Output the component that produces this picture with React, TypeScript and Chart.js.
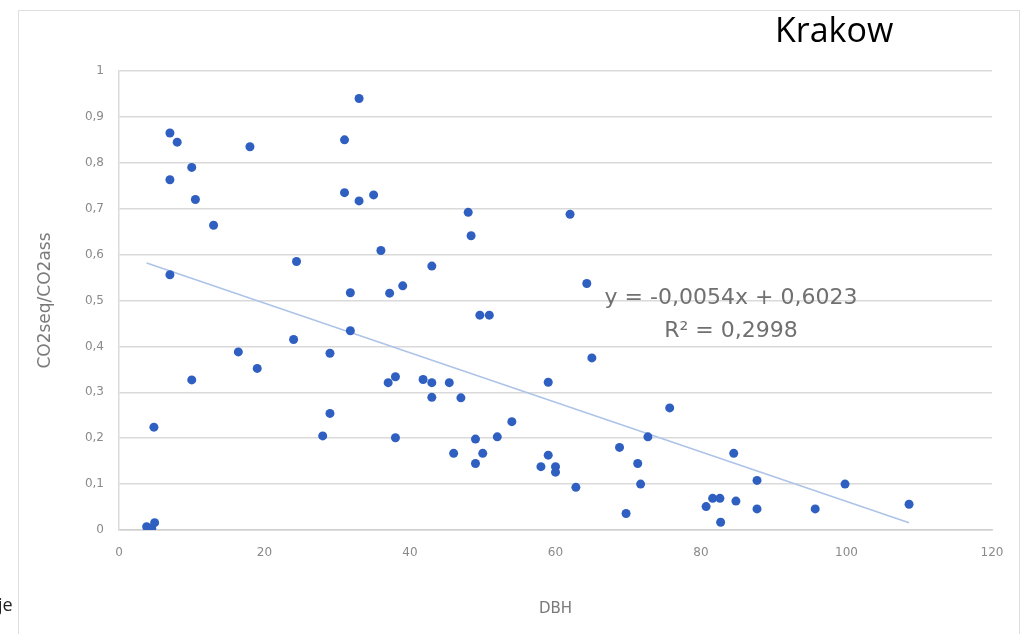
import React, { useEffect, useRef } from "react";
import { Chart, registerables } from "chart.js";

Chart.register(...registerables);

// DBH values (x) and CO2seq/CO2ass ratios (y)
const dbh = [
  33, 31, 7, 8, 18, 10, 7, 10.5, 31, 33,
  35, 48, 62, 13, 48.4, 36, 24.4, 43, 7, 64.3,
  39, 31.8, 37.2, 49.6, 50.9, 31.8, 24, 16.4, 29, 65,
  19, 10, 37, 38, 41.8, 43, 45.4, 59, 43, 47,
  75.7, 29, 54, 4.8, 28, 38, 52, 49, 72.7, 68.8,
  46, 50, 59, 84.5, 49, 71.3, 58, 60, 60, 71.7,
  62.8, 87.7, 99.8, 69.7, 80.7, 81.6, 82.6, 82.7, 84.8, 87.7,
  95.7, 108.6, 3.8, 4.5, 4.9,
];
const ratio = [
  0.94, 0.85, 0.865, 0.845, 0.835, 0.79, 0.763, 0.72, 0.735, 0.717,
  0.73, 0.692, 0.688, 0.664, 0.641, 0.609, 0.585, 0.575, 0.556, 0.537,
  0.532, 0.517, 0.516, 0.468, 0.468, 0.434, 0.415, 0.388, 0.385, 0.375,
  0.352, 0.327, 0.321, 0.334, 0.328, 0.321, 0.321, 0.322, 0.289, 0.288,
  0.266, 0.254, 0.236, 0.224, 0.205, 0.201, 0.203, 0.198, 0.203, 0.18,
  0.167, 0.167, 0.163, 0.167, 0.145, 0.145, 0.138, 0.138, 0.126, 0.1,
  0.093, 0.108, 0.1, 0.036, 0.051, 0.069, 0.069, 0.017, 0.063, 0.046,
  0.046, 0.056, 0.007, 0.004, 0.016,
];

// Trendline as labelled on the chart
const trendSlope = -0.0054;
const trendIntercept = 0.6023;
const equationLines = ["y = -0,0054x + 0,6023", "R² = 0,2998"];

const chartTitle = "Krakow";
const xTitle = "DBH";
const yTitle = "CO2seq/CO2ass";
const xTicks = { min: 0, max: 120, step: 20 };
const yTicks = { min: 0, max: 1, step: 0.1 };

export default function App() {
  const canvasRef = useRef<HTMLCanvasElement | null>(null);

  useEffect(() => {
    const canvas = canvasRef.current;
    if (!canvas) return;
    const points = dbh.map((x, i) => ({ x, y: ratio[i] }));
    const xMin = Math.min(...dbh);
    const xMax = Math.max(...dbh);
    const trend = [
      { x: xMin, y: trendIntercept + trendSlope * xMin },
      { x: xMax, y: trendIntercept + trendSlope * xMax },
    ];
    const tickFont = { family: "'DejaVu Sans', sans-serif", size: 12 };
    const chart = new Chart(canvas, {
      type: "scatter",
      data: {
        datasets: [
          {
            data: points,
            backgroundColor: "#2f5fc0",
            borderWidth: 0,
            pointRadius: 4.5,
          },
          {
            type: "line",
            data: trend,
            borderColor: "#aec3e8",
            borderWidth: 1.6,
            pointRadius: 0,
            fill: false,
          } as any,
        ],
      },
      options: {
        animation: false,
        responsive: false,
        devicePixelRatio: 1,
        layout: { padding: { left: 0, top: 71, right: 36, bottom: 0 } },
        plugins: {
          legend: { display: false },
          tooltip: { enabled: false },
        },
        scales: {
          x: {
            type: "linear",
            min: xTicks.min,
            max: xTicks.max,
            afterFit: (s: any) => {
              s.height = 104;
            },
            ticks: {
              stepSize: xTicks.step,
              padding: 16,
              color: "#8a8a8a",
              font: tickFont,
            },
            grid: { display: false, drawTicks: false },
            border: { display: true, color: "#d0d0d0", width: 1.5 },
            title: {
              display: true,
              text: xTitle,
              color: "#7a7a7a",
              font: { family: "'DejaVu Sans', sans-serif", size: 15 },
              padding: { top: 0, bottom: 16 },
            },
          },
          y: {
            type: "linear",
            min: yTicks.min,
            max: yTicks.max,
            afterFit: (s: any) => {
              s.width = 119;
            },
            ticks: {
              stepSize: yTicks.step,
              padding: 15,
              color: "#8a8a8a",
              font: tickFont,
              callback: (v: any) =>
                String(Math.round(Number(v) * 10) / 10).replace(".", ","),
            },
            grid: { color: "#dadada", lineWidth: 1.5, drawTicks: false },
            border: { display: true, color: "#dadada", width: 1.5 },
            title: {
              display: true,
              text: yTitle,
              color: "#7a7a7a",
              font: { family: "'DejaVu Sans', sans-serif", size: 17 },
              padding: { top: 35, bottom: 0 },
            },
          },
        },
      },
    });
    return () => chart.destroy();
  }, []);

  return (
    <div
      style={{
        position: "fixed",
        left: 0,
        top: 0,
        width: 1028,
        height: 634,
        background: "#ffffff",
        overflow: "hidden",
      }}
    >
      <div
        style={{
          position: "absolute",
          left: 18,
          top: 10,
          width: 1002,
          height: 640,
          border: "1px solid #dedede",
          boxSizing: "border-box",
        }}
      />
      <canvas
        ref={canvasRef}
        width={1028}
        height={634}
        style={{ position: "absolute", left: 0, top: 0, width: 1028, height: 634 }}
      />
      <div
        style={{
          position: "absolute",
          left: 775,
          top: 12,
          fontFamily: "'Open Sans', sans-serif",
          fontSize: 34,
          lineHeight: "34px",
          color: "#000",
          whiteSpace: "nowrap",
        }}
      >
        {chartTitle}
      </div>
      <div
        style={{
          position: "absolute",
          left: 581,
          top: 280,
          width: 300,
          textAlign: "center",
          fontFamily: "'DejaVu Sans', sans-serif",
          fontSize: 22,
          lineHeight: "33px",
          color: "#707070",
          whiteSpace: "nowrap",
        }}
      >
        <div>{equationLines[0]}</div>
        <div>{equationLines[1]}</div>
      </div>
      <div
        style={{
          position: "absolute",
          left: -2,
          top: 592,
          fontFamily: "'Open Sans', sans-serif",
          fontSize: 18,
          lineHeight: "24px",
          color: "#222",
        }}
      >
        je
      </div>
    </div>
  );
}
